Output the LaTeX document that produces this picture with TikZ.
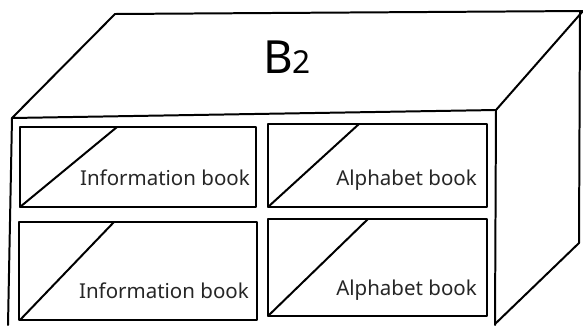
\documentclass[tikz,border=0pt]{standalone}
\usepackage{fontspec}
\setmainfont{Noto Sans}
\tikzset{
  edge/.style={line width=1.7pt, line join=round, line cap=round},
  booklabel/.style={font=\fontsize{17.5}{20}\selectfont, anchor=base east, inner sep=0pt, text=black!85},
}
\begin{document}
\begin{tikzpicture}[x=0.03cm,y=-0.03cm]
  \useasboundingbox (0,0) rectangle (583,325);
  % top face
  \draw[edge] (12,118) -- (115,14) -- (583,11) -- (496,110) -- cycle;
  % right face
  \draw[edge] (580,12) -- (579,243) -- (495,324);
  % front face
  \draw[edge] (12,118) -- (8,325);
  \draw[edge] (496,110) -- (495,325);
  % shelf compartments
  \draw[edge] (20,127) rectangle (256,207);
  \draw[edge] (20,207) -- (117,127);
  \draw[edge] (19,222) rectangle (257,320);
  \draw[edge] (20,320) -- (114,222);
  \draw[edge] (268,124) rectangle (487,207);
  \draw[edge] (268,207) -- (359,124);
  \draw[edge] (268,219) rectangle (487,316);
  \draw[edge] (268,316) -- (368,219);
  % labels
  \node (title) at (287,73) [anchor=base, inner sep=0pt]
    {\fontsize{39}{40}\selectfont B{\fontsize{27}{28}\selectfont 2}};
  \node[booklabel] (infoA) at (250,185) {Information book};
  \node[booklabel] (infoB) at (249,298) {Information book};
  \node[booklabel] (alphaA) at (477,185) {Alphabet book};
  \node[booklabel] (alphaB) at (477,295) {Alphabet book};
\end{tikzpicture}
\end{document}
